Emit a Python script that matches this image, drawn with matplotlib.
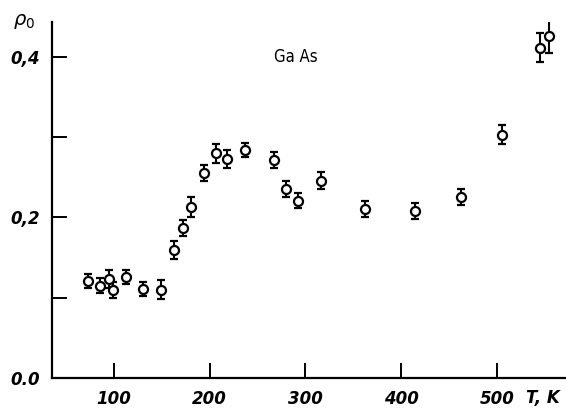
import matplotlib
matplotlib.use("Agg")
import matplotlib.pyplot as plt

# values
temp_K = [73.5, 85.7, 95.1, 98.9, 112.8, 130.6, 149, 163, 172.7, 180.4, 194.3,
          206.8, 218, 236.7, 267.3, 279.9, 292, 316, 362.6, 414.5, 462.9,
          505, 545, 554.4]
rho0 = [0.121, 0.115, 0.123, 0.109, 0.126, 0.111, 0.110, 0.159, 0.187, 0.213,
        0.256, 0.280, 0.273, 0.284, 0.272, 0.236, 0.221, 0.246, 0.210, 0.208,
        0.226, 0.303, 0.412, 0.426]
rho0_err = [0.009, 0.009, 0.011, 0.010, 0.009, 0.009, 0.012, 0.011, 0.010,
            0.013, 0.010, 0.012, 0.011, 0.009, 0.010, 0.010, 0.009, 0.011,
            0.010, 0.010, 0.010, 0.012, 0.018, 0.021]

x_ticks = [100, 200, 300, 400, 500]
x_ticklabels = ["100", "200", "300", "400", "500"]
y_ticks = [0.0, 0.1, 0.2, 0.3, 0.4]
y_ticklabels = ["0.0", "", "0,2", "", "0,4"]

plt.rcParams["mathtext.fontset"] = "dejavusans"
lab = dict(family="DejaVu Sans", style="italic", weight="bold", size=12)

fig = plt.figure(figsize=(5.66, 4.09), dpi=100)
ax = fig.add_axes([0.092, 0.0765, 0.908, 0.87])

ax.errorbar(temp_K, rho0, yerr=rho0_err, fmt="o", ms=6.5, mfc="white",
            mec="black", mew=1.6, ecolor="black", elinewidth=1.5,
            capsize=3, capthick=1.6, color="black", zorder=3)

ax.set_xlim(35.6, 572)
ax.set_ylim(0, 0.444)

for s in ("top", "right"):
    ax.spines[s].set_visible(False)
for s in ("left", "bottom"):
    ax.spines[s].set_linewidth(1.6)

ax.set_xticks(x_ticks)
ax.set_xticklabels(x_ticklabels, **lab)
ax.set_yticks(y_ticks)
ax.set_yticklabels(y_ticklabels, **lab)
ax.tick_params(direction="in", length=11, width=1.4, pad=9)

ax.text(-0.055, 1.0, r"$\rho_0$", transform=ax.transAxes, fontsize=14,
        ha="center", va="center", style="italic")
ax.text(0.475, 0.9, "Ga As", transform=ax.transAxes, fontsize=12,
        ha="center", va="center", family="DejaVu Sans", stretch="condensed")
ax.text(0.955, -0.057, "T, K", transform=ax.transAxes, ha="center",
        va="center", **lab)

fig.savefig("out.png", dpi=100)
